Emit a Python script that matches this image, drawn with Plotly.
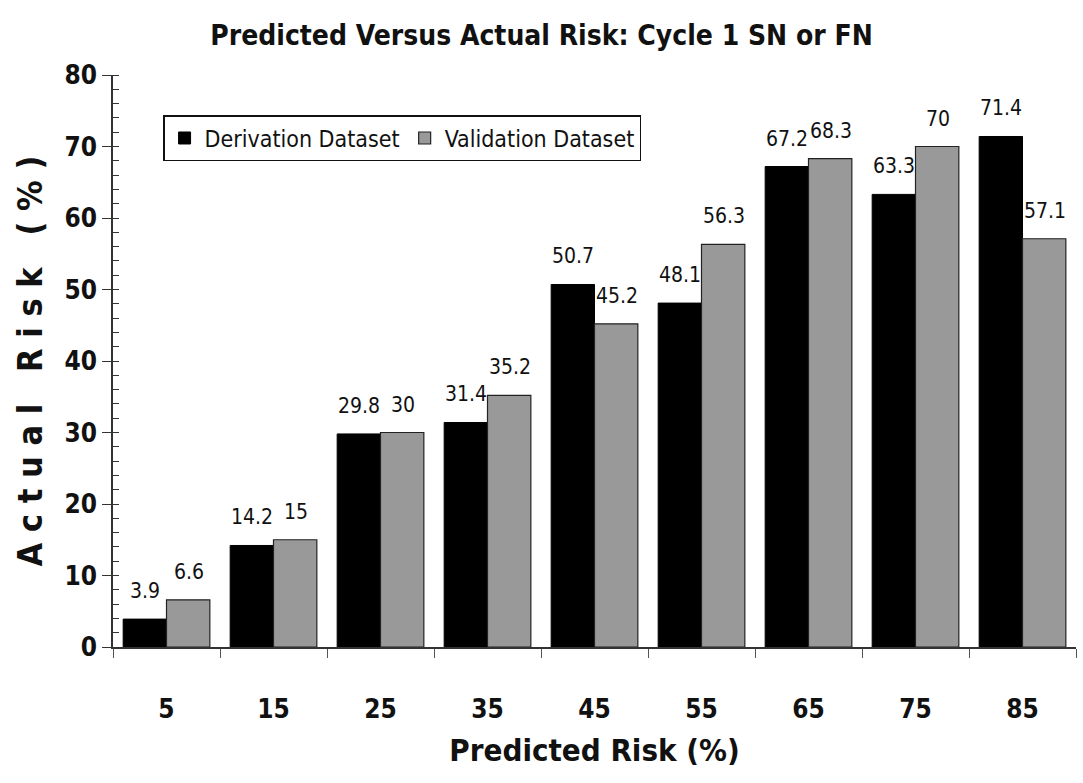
import plotly.graph_objects as go

predicted_risk = ["5", "15", "25", "35", "45", "55", "65", "75", "85"]
derivation = [3.9, 14.2, 29.8, 31.4, 50.7, 48.1, 67.2, 63.3, 71.4]
validation = [6.6, 15, 30, 35.2, 45.2, 56.3, 68.3, 70, 57.1]

FONT = "Liberation Sans Narrow, Arial Narrow, DejaVu Sans Condensed, Liberation Sans, Arial"
NB = "\u00a0"

fig = go.Figure()
fig.add_trace(go.Bar(
    name="Derivation Dataset", x=predicted_risk, y=derivation,
    marker=dict(color="#000000", line=dict(color="#000000", width=1)),
))
fig.add_trace(go.Bar(
    name="Validation Dataset", x=predicted_risk, y=validation,
    marker=dict(color="#999999", line=dict(color="#222222", width=1.2)),
))

# value labels above each bar (category index used as the x position)
for series, shift in ((derivation, -22), (validation, 22)):
    for idx, val in enumerate(series):
        fig.add_annotation(
            x=idx, y=val, text=f"{val:g}", showarrow=False,
            xshift=shift, yshift=14, yanchor="bottom",
            font=dict(family=FONT, size=21, color="#111111"),
        )

# letter-spaced y axis title
y_title = NB.join("Actual") + NB * 3 + NB.join("Risk") + NB * 3 + NB.join("(%)")

fig.update_layout(
    width=1083, height=783,
    margin=dict(l=113, r=7, t=75, b=136),
    paper_bgcolor="white", plot_bgcolor="white",
    barmode="group", bargap=0.19, bargroupgap=0,
    title=dict(
        text="<b>Predicted Versus Actual Risk: Cycle 1 SN or FN</b>",
        x=0.5, xanchor="center", y=0.955, yanchor="middle",
        font=dict(family=FONT, size=28, color="#111111"),
    ),
    legend=dict(
        orientation="h", x=0.052, y=0.93, xanchor="left", yanchor="top",
        bordercolor="#111111", borderwidth=1.5, bgcolor="white",
        font=dict(family=FONT, size=23, color="#111111"),
        itemwidth=30, tracegroupgap=0, valign="middle",
    ),
    xaxis=dict(
        type="category", range=[-0.5, 8.5],
        showline=True, linecolor="#333333", linewidth=1.5,
        ticks="outside", ticklen=9, tickcolor="#555555", tickson="boundaries",
        ticklabelstandoff=38,
        tickfont=dict(family=FONT, size=26, color="#111111"),
        title=dict(text="<b>Predicted Risk (%)</b>", standoff=16,
                   font=dict(family=FONT, size=31, color="#111111")),
        tickprefix="<b>", ticksuffix="</b>",
    ),
    yaxis=dict(
        range=[0, 80], dtick=10, showgrid=False, zeroline=False,
        showline=True, linecolor="#333333", linewidth=1.5,
        ticks="outside", ticklen=9, tickcolor="#333333",
        minor=dict(dtick=2, ticks="inside", ticklen=6, tickcolor="#333333"),
        tickfont=dict(family=FONT, size=26, color="#111111"),
        tickprefix="<b>", ticksuffix="</b>",
        title=dict(text=f"<b>{y_title}</b>", standoff=12,
                   font=dict(family=FONT, size=34, color="#111111")),
    ),
)

fig.write_html("out.html")
